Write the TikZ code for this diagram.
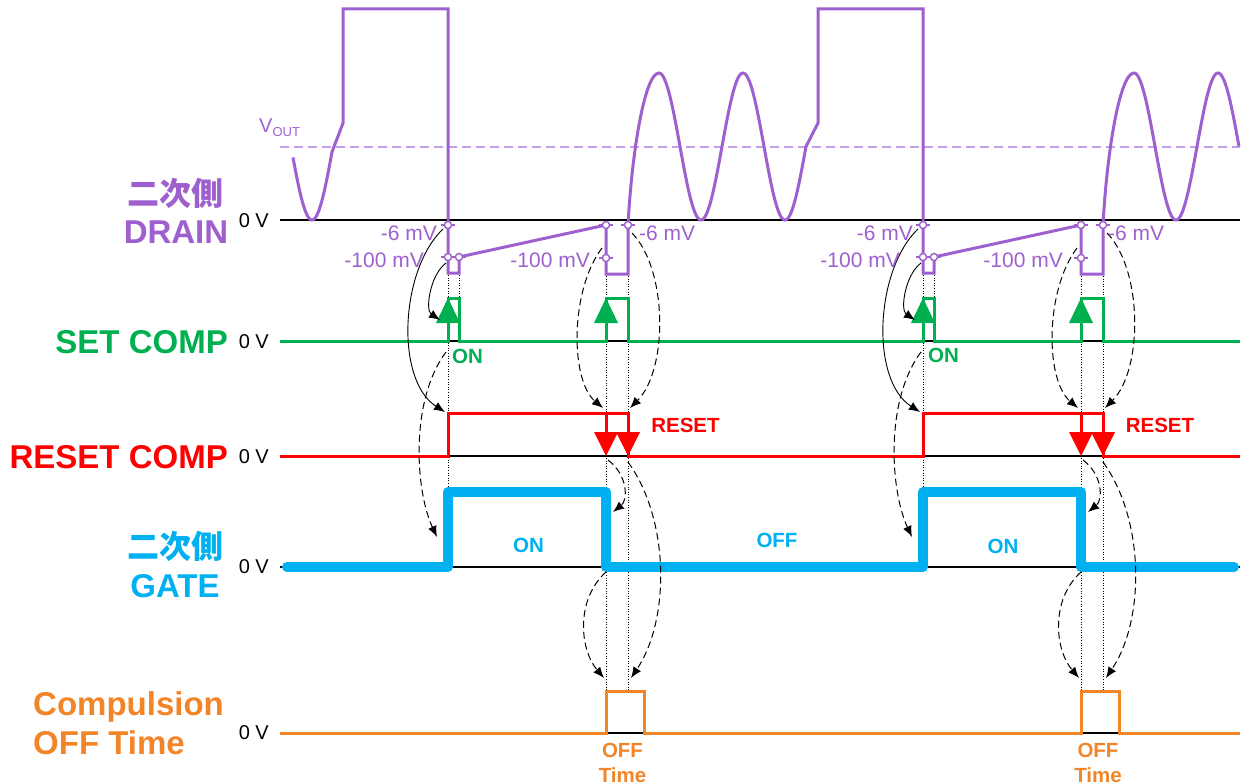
\documentclass[tikz,border=0pt]{standalone}
\usepackage{fontspec}
\setmainfont{Liberation Sans}
\newfontfamily\cjk{Noto Sans CJK JP}
\usetikzlibrary{arrows.meta}
\definecolor{dpurple}{RGB}{158,96,206}
\definecolor{lpurple}{RGB}{196,160,232}
\definecolor{sgreen}{RGB}{0,176,80}
\definecolor{sred}{RGB}{255,0,0}
\definecolor{sblue}{RGB}{0,176,240}
\definecolor{sorange}{RGB}{242,133,40}
\tikzset{
 reflin/.style={black, line width=1.2pt},
 sig/.style={line width=3pt, line join=miter},
 lbl/.style={font=\fontsize{33}{33}\selectfont\bfseries, inner sep=0},
 cjklbl/.style={font=\cjk\fontsize{32}{32}\selectfont\bfseries, inner sep=0},
 zv/.style={font=\fontsize{20}{20}\selectfont, inner sep=0, anchor=base east},
 mv/.style={font=\fontsize{21}{21}\selectfont, text=dpurple, inner sep=0},
 sm/.style={font=\fontsize{20.5}{20.5}\selectfont\bfseries, inner sep=0, anchor=base},
 dotl/.style={black, line width=0.8pt, dash pattern=on 1pt off 1.6pt},
 darr/.style={black, line width=1pt, dash pattern=on 7pt off 4pt, -{Latex[length=11pt,width=9pt]}},
 sarr/.style={black, line width=0.9pt, -{Latex[length=11pt,width=9pt]}},
 mk/.pic={\draw[dpurple,line width=1.4pt] (-7,0)--(7,0);
          \draw[dpurple,fill=white,line width=1.4pt] (0,0) circle (3.6);}
}
\begin{document}
\begin{tikzpicture}[x=1pt,y=-1pt]
\useasboundingbox (0,0) rectangle (1243,784);

% ---- reference lines
\draw[lpurple, line width=1.3pt, dash pattern=on 9pt off 5pt] (280,147) -- (1240,147);
\foreach \yy in {220,341,456,567,733}{ \draw[reflin] (280,\yy) -- (1240,\yy); }

% ---- dotted verticals
\foreach \o in {0,475}{
 \begin{scope}[xshift=\o pt]
  \draw[dotl] (448,275) -- (448,488);
  \draw[dotl] (459,275) -- (459,298);
  \draw[dotl] (606,276) -- (606,691);
  \draw[dotl] (628,276) -- (628,691);
 \end{scope}
}

% ---- DRAIN
\draw[dpurple, line width=3pt, line join=miter]
 plot[domain=293:332,samples=30] (\x,{146.5+73.5*cos(4.285714*(\x-312))})
 -- (343,123) -- (343,9) -- (448,9) -- (448,273) -- (459,273) -- (459,257)
 -- (606,225) -- (606,274) -- (628,274) -- (628,225)
 .. controls (632,150) and (645,73) .. (659,73)
 -- plot[domain=659:806,samples=120] (\x,{146.5-73.5*cos(4.285714*(\x-659))})
 -- (818,123) -- (818,9) -- (923,9) -- (923,273) -- (934,273) -- (934,257)
 -- (1081,225) -- (1081,274) -- (1103,274) -- (1103,225)
 .. controls (1107,150) and (1120,73) .. (1134,73)
 -- plot[domain=1134:1239,samples=90] (\x,{146.5-73.5*cos(4.285714*(\x-1134))});

% ---- SET COMP
\draw[sgreen, sig] (280,341) -- (448,341) -- (448,298) -- (459,298) -- (459,341)
 -- (606,341) -- (606,298) -- (628,298) -- (628,341)
 -- (923,341) -- (923,298) -- (934,298) -- (934,341)
 -- (1081,341) -- (1081,298) -- (1103,298) -- (1103,341) -- (1240,341);

% ---- RESET COMP
\draw[sred, sig] (280,456) -- (448,456) -- (448,413) -- (628,413) -- (628,456)
 -- (923,456) -- (923,413) -- (1103,413) -- (1103,456) -- (1240,456);

% ---- GATE
\draw[sblue, line width=10pt, line cap=round, line join=round]
 (287,567) -- (448,567) -- (448,492) -- (606,492) -- (606,567)
 -- (923,567) -- (923,492) -- (1081,492) -- (1081,567) -- (1234,567);

% ---- Compulsion OFF time
\draw[sorange, sig] (280,733) -- (606,733) -- (606,691) -- (644,691) -- (644,733)
 -- (1081,733) -- (1081,691) -- (1119,691) -- (1119,733) -- (1240,733);

% ---- per-cycle markers, arrows, curves
\foreach \o in {0,475}{
 \begin{scope}[xshift=\o pt]
  \pic at (448,225) {mk}; \pic at (448,257) {mk}; \pic at (459,257) {mk};
  \pic at (606,225) {mk}; \pic at (606,258) {mk}; \pic at (628,225) {mk};
  % green arrows
  \fill[sgreen] (436,323) -- (448,298) -- (460,323) -- cycle;
  \fill[sgreen] (594,323) -- (606,298) -- (618,323) -- cycle;
  % red arrows
  \draw[sred, sig] (606,413) -- (606,434);
  \fill[sred] (594,432) -- (606,456) -- (618,432) -- cycle;
  \fill[sred] (616,432) -- (628,456) -- (640,432) -- cycle;
  % curves
  \coordinate (a0) at (443,229); \coordinate (a1) at (445,412);
  \draw[sarr] (a0) .. controls (400,270) and (395,380) .. (a1);
  \coordinate (b0) at (446,263); \coordinate (b1) at (440,320);
  \draw[sarr] (b0) .. controls (430,275) and (425,310) .. (b1);
  \coordinate (c0) at (446,352); \coordinate (c1) at (437,537);
  \draw[darr] (c0) .. controls (410,400) and (415,490) .. (c1);
  \coordinate (d0) at (602,248); \coordinate (d1) at (603,408);
  \draw[darr] (d0) .. controls (570,290) and (570,380) .. (d1);
  \coordinate (e0) at (632,233); \coordinate (e1) at (630,408);
  \draw[darr] (e0) .. controls (668,270) and (668,370) .. (e1);
  \coordinate (f0) at (608,460); \coordinate (f1) at (613,512);
  \draw[darr] (f0) .. controls (628,475) and (628,500) .. (f1);
  \coordinate (g0) at (628,462); \coordinate (g1) at (631,678);
  \draw[darr] (g0) .. controls (670,520) and (670,620) .. (g1);
  \coordinate (h0) at (606,572); \coordinate (h1) at (604,678);
  \draw[darr] (h0) .. controls (575,600) and (580,650) .. (h1);
 \end{scope}
}

% ---- texts
\node[text=dpurple, anchor=base west, inner sep=0] (vout) at (259,132)
 {\fontsize{20}{20}\selectfont V\raisebox{-4pt}{\fontsize{13}{13}\selectfont OUT}};

\node[cjklbl, text=dpurple] (dr1) at (175,193) {二次側};
\node[lbl, text=dpurple, anchor=base] (dr2) at (176,243) {DRAIN};
\node[lbl, text=sgreen, anchor=base east] (setl) at (228,353) {SET COMP};
\node[lbl, text=sred, anchor=base east] (rstl) at (228,468) {RESET COMP};
\node[cjklbl, text=sblue] (g1) at (175,546) {二次側};
\node[lbl, text=sblue, anchor=base] (g2) at (175,597) {GATE};
\node[lbl, text=sorange, anchor=base west] (c1) at (33,715) {Compulsion};
\node[lbl, text=sorange, anchor=base west] (c2) at (33,754) {OFF Time};

\node[zv] (z1) at (269,227) {0 V};
\node[zv] (z2) at (269,348) {0 V};
\node[zv] (z3) at (269,463) {0 V};
\node[zv] (z4) at (269,573) {0 V};
\node[zv] (z5) at (269,739) {0 V};

\node[mv, anchor=base east] (m1) at (437,240) {-6 mV};
\node[mv, anchor=base east] (m2) at (424,267) {-100 mV};
\node[mv, anchor=base east] (m3) at (590,267) {-100 mV};
\node[mv, anchor=base west] (m4) at (639,240) {-6 mV};
\node[mv, anchor=base east] (m5) at (913,240) {-6 mV};
\node[mv, anchor=base east] (m6) at (900,267) {-100 mV};
\node[mv, anchor=base east] (m7) at (1063,267) {-100 mV};
\node[mv, anchor=base west] (m8) at (1108,240) {-6 mV};

\node[sm, text=sgreen] (on1) at (467.5,363) {ON};
\node[sm, text=sgreen] (on2) at (943.5,362) {ON};
\node[sm, text=sred] (rs1) at (685.5,432) {RESET};
\node[sm, text=sred] (rs2) at (1160,432) {RESET};
\node[sm, text=sblue] (gon1) at (528.5,552) {ON};
\node[sm, text=sblue] (goff) at (777,547) {OFF};
\node[sm, text=sblue] (gon2) at (1003,553) {ON};
\node[sm, text=sorange] (of1) at (622.5,757) {OFF};
\node[sm, text=sorange] (t1) at (622.5,782) {Time};
\node[sm, text=sorange] (of2) at (1098,757) {OFF};
\node[sm, text=sorange] (t2) at (1098,782) {Time};
\end{tikzpicture}
\end{document}
